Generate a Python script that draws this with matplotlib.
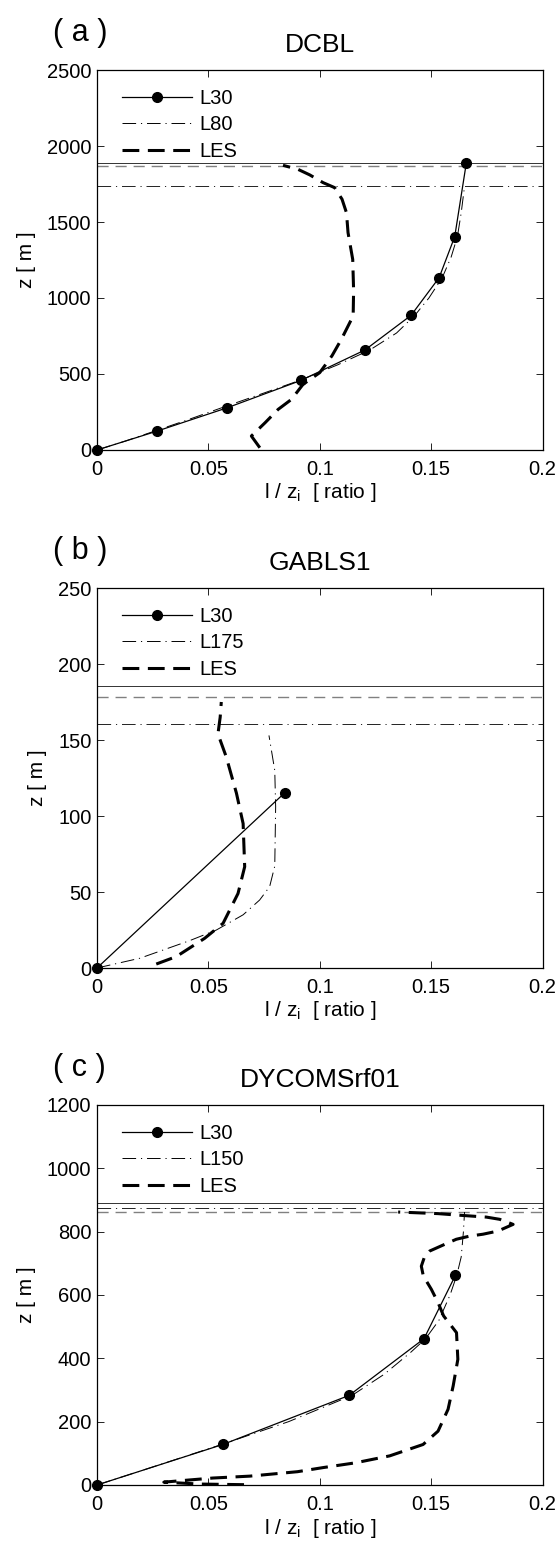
import numpy as np
import matplotlib
matplotlib.use("Agg")
import matplotlib.pyplot as plt

plt.rcParams["font.family"] = ["Liberation Sans", "DejaVu Sans"]
plt.rcParams["mathtext.fontset"] = "custom"
plt.rcParams["mathtext.rm"] = "Liberation Sans"
plt.rcParams["mathtext.it"] = "Liberation Sans"

# ---------------------------------------------------------------------------
# (a) DCBL
# ---------------------------------------------------------------------------
dcbl_l30_x = [0, 0.0271, 0.0585, 0.0916, 0.1203, 0.141, 0.1536, 0.1606, 0.1658]
dcbl_l30_z = [0, 125, 278, 458, 658, 886, 1134, 1404, 1888]

dcbl_l80_x = [0, 0.013, 0.026, 0.041, 0.056, 0.074, 0.091, 0.108, 0.1225,
              0.1345, 0.1427, 0.149, 0.155, 0.159, 0.1618, 0.1635, 0.165]
dcbl_l80_z = [0, 60, 125, 200, 278, 370, 458, 560, 658,
              770, 886, 1000, 1134, 1270, 1404, 1560, 1735]

dcbl_les_x = [0.0731, 0.0693, 0.0755, 0.0813, 0.0873, 0.0925, 0.100, 0.1055,
              0.1097, 0.1150, 0.1152, 0.1148, 0.1127, 0.1120, 0.1100, 0.1067,
              0.1015, 0.0955, 0.0903, 0.0835]
dcbl_les_z = [15, 92, 180, 267, 333, 432, 509, 620,
              728, 882, 1050, 1254, 1430, 1561, 1650, 1726,
              1759, 1810, 1846, 1873]

dcbl_zi = {"L30": 1885, "L80": 1735, "LES": 1868}

# ---------------------------------------------------------------------------
# (b) GABLS1
# ---------------------------------------------------------------------------
gabls_l30_x = [0, 0.0843]
gabls_l30_z = [0, 115.3]

gabls_l175_x = [0, 0.0192, 0.0416, 0.0536, 0.0656, 0.073, 0.0775, 0.0798,
                0.0802, 0.0798, 0.0772]
gabls_l175_z = [0, 6.4, 18, 25, 35, 44.7, 53.5, 67, 106, 130, 153]

gabls_les_x = [0.0266, 0.0356, 0.0483, 0.0566, 0.0633, 0.0663, 0.0656, 0.0626,
               0.058, 0.0543, 0.0553, 0.0558]
gabls_les_z = [2.6, 7.5, 19.5, 29.4, 49, 66.6, 95, 115, 139, 154, 165, 175]

gabls_zi = {"L30": 185.5, "L175": 160.3, "LES": 178}

# ---------------------------------------------------------------------------
# (c) DYCOMSrf01
# ---------------------------------------------------------------------------
dycoms_l30_x = [0, 0.0567, 0.1132, 0.1468, 0.1609]
dycoms_l30_z = [0, 128.5, 283, 462, 662]

dycoms_l150_x = [0, 0.022, 0.056, 0.086, 0.1145, 0.129, 0.141, 0.1475, 0.1535,
                 0.1585, 0.1615, 0.1635, 0.1645, 0.165]
dycoms_l150_z = [0, 50, 128, 200, 283, 350, 420, 462, 520, 600, 662, 720, 800, 862]

dycoms_les_x = [0.066, 0.046, 0.030, 0.040, 0.052, 0.0686, 0.090, 0.1015, 0.116,
                0.1314, 0.1464, 0.1531, 0.1576, 0.1599, 0.162, 0.1614, 0.1556,
                0.1531, 0.1501, 0.1465, 0.1456, 0.1470, 0.1494, 0.1561, 0.1613,
                0.1673, 0.1733, 0.1800, 0.1868, 0.1808, 0.1748, 0.1666, 0.1606,
                0.1531, 0.1352]
dycoms_les_z = [1, 3, 9, 15, 22, 28, 42, 55, 70,
                92, 128, 170, 239, 313, 397, 481, 534,
                576, 618, 660, 691, 720, 739, 760, 776,
                786, 792, 802, 823, 839, 846, 850, 853,
                857, 862]

dycoms_zi = {"L30": 889.5, "L150": 876, "LES": 862}

# ---------------------------------------------------------------------------
W, H = 560, 1544
fig = plt.figure(figsize=(W / 100, H / 100), dpi=100)

DASHDOT = (0, (14, 5, 1.2, 5))
LES_DASH = (0, (5.5, 2.8))


def add_panel(top_px, letter, title, ymax, ystep,
              l30, hires, les, zi, hires_name):
    left, width, height = 97, 445.5, 380
    ax = fig.add_axes([left / W, 1 - (top_px + height) / H, width / W, height / H])

    # boundary-layer heights
    ax.axhline(zi["L30"], color="#333333", lw=0.7, zorder=1)
    ax.axhline(zi["LES"], color="#808080", lw=1.0, ls=(0, (8, 5)), zorder=1)
    ax.axhline(zi[hires_name], color="#222222", lw=0.7, ls=DASHDOT, zorder=1)

    ax.plot(l30[0], l30[1], color="black", lw=0.9, marker="o", ms=7,
            label="L30", zorder=4, clip_on=False)
    ax.plot(hires[0], hires[1], color="black", lw=0.7, ls=DASHDOT,
            label=hires_name, zorder=3)
    ax.plot(les[0], les[1], color="black", lw=2.2, ls=LES_DASH,
            label="LES", zorder=3)

    ax.set_xlim(0, 0.2)
    ax.set_ylim(0, ymax)
    ax.set_xticks([0, 0.05, 0.1, 0.15, 0.2])
    ax.set_xticklabels(["0", "0.05", "0.1", "0.15", "0.2"])
    ax.set_yticks(np.arange(0, ymax + 1, ystep))
    ax.tick_params(direction="in", top=True, right=True, length=5, width=0.6,
                   labelsize=14.5)
    ax.tick_params(axis="x", pad=7)
    ax.tick_params(axis="y", pad=4)
    for sp in ax.spines.values():
        sp.set_linewidth(0.9)

    ax.set_xlabel(r"l / z$_\mathregular{i}$  [ ratio ]", fontsize=15, labelpad=2)
    ax.set_ylabel("z [ m ]", fontsize=15, labelpad=8)

    fig.text((left + width / 2) / W, 1 - (top_px - 25) / H, title,
             ha="center", va="center", fontsize=19)
    fig.text(53 / W, 1 - (top_px - 37) / H, f"( {letter} )",
             ha="left", va="center", fontsize=22)

    ax.legend(loc="upper left", bbox_to_anchor=(0.056, 0.95), frameon=False,
              fontsize=14.5, handlelength=3.5, handletextpad=0.35,
              labelspacing=0.37, borderpad=0, borderaxespad=0, numpoints=1)
    return ax


add_panel(70, "a", "DCBL", 2500, 500,
          (dcbl_l30_x, dcbl_l30_z), (dcbl_l80_x, dcbl_l80_z),
          (dcbl_les_x, dcbl_les_z), dcbl_zi, "L80")
add_panel(588, "b", "GABLS1", 250, 50,
          (gabls_l30_x, gabls_l30_z), (gabls_l175_x, gabls_l175_z),
          (gabls_les_x, gabls_les_z), gabls_zi, "L175")
add_panel(1105, "c", "DYCOMSrf01", 1200, 200,
          (dycoms_l30_x, dycoms_l30_z), (dycoms_l150_x, dycoms_l150_z),
          (dycoms_les_x, dycoms_les_z), dycoms_zi, "L150")

fig.savefig("out.png", dpi=100)
